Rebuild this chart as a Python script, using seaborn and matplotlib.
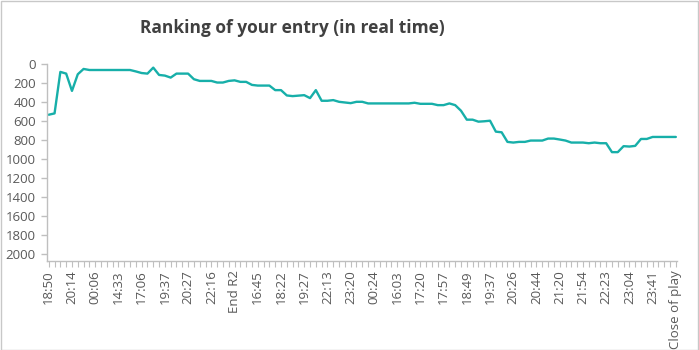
import numpy as np
import pandas as pd
import matplotlib
matplotlib.use("Agg")
import matplotlib.pyplot as plt
from matplotlib.patches import Rectangle
import seaborn as sns

# Ranking of the entry at each update (lower is better)
ranks = [
    531, 517, 80, 98, 280, 105, 49, 60, 60, 60,
    60, 60, 60, 60, 60, 75, 92, 98, 35, 112,
    119, 140, 98, 98, 98, 157, 175, 175, 175, 192,
    192, 175, 169, 185, 185, 217, 224, 224, 224, 272,
    272, 328, 335, 330, 325, 356, 272, 384, 384, 377,
    395, 402, 409, 395, 395, 412, 412, 412, 412, 412,
    412, 412, 412, 405, 416, 416, 416, 430, 430, 412,
    430, 489, 583, 583, 604, 600, 594, 709, 716, 817,
    824, 817, 817, 803, 803, 803, 782, 782, 792, 803,
    824, 824, 824, 831, 824, 831, 831, 925, 925, 862,
    866, 859, 786, 786, 765, 765, 765, 765, 765,
]

# Labels shown on every fourth update
tick_labels = [
    "18:50", "20:14", "00:06", "14:33", "17:06", "19:37", "20:27",
    "22:16", "End R2", "16:45", "18:22", "19:27", "22:13", "23:20",
    "00:24", "16:03", "17:20", "17:57", "18:49", "19:37", "20:26",
    "20:44", "21:20", "21:54", "22:23", "23:04", "23:41", "Close of play",
]
label_step = 4

y_ticks = list(range(0, 2001, 200))

df = pd.DataFrame({"step": np.arange(len(ranks)), "rank": ranks})

sns.set_style("white")
plt.rcParams["font.family"] = ["Open Sans", "DejaVu Sans"]

W, H = 699, 350
fig = plt.figure(figsize=(W / 100, H / 100), dpi=100)
ax = fig.add_axes([47 / W, 1 - 260.7 / H, 630 / W, 196.4 / H])

sns.lineplot(data=df, x="step", y="rank", ax=ax, color="#17AFA9",
             linewidth=1.7, legend=False)

ax.set_ylim(2068, 0)
ax.set_yticks(y_ticks)
ax.set_yticklabels([str(v) for v in y_ticks])
ax.set_xlim(-0.3, len(ranks) - 0.8)
ax.set_xticks(np.arange(0, len(ranks), label_step))
ax.set_xticklabels(tick_labels, rotation=90)
ax.set_xticks(np.arange(len(ranks)), minor=True)
ax.set_xlabel("")
ax.set_ylabel("")

axis_grey = "#BFBFBF"
text_grey = "#595959"
for side in ["top", "right"]:
    ax.spines[side].set_visible(False)
for side in ["left", "bottom"]:
    ax.spines[side].set_color(axis_grey)
    ax.spines[side].set_linewidth(1.0)

ax.tick_params(axis="y", which="major", left=True, length=4, width=1,
               color=axis_grey, labelsize=9.5, labelcolor=text_grey, pad=4)
ax.tick_params(axis="x", which="both", bottom=True, length=4, width=0.8,
               color=axis_grey, labelsize=9.5, labelcolor=text_grey, pad=3)

fig.text(292 / W, 1 - 28 / H, "Ranking of your entry (in real time)",
         ha="center", va="center", fontsize=12.5, fontweight="bold",
         color="#404040")

fig.patches.append(Rectangle((0.5 / W, 0.5 / H), (W - 1.5) / W, (H - 1.5) / H,
                             transform=fig.transFigure, fill=False,
                             edgecolor="#C8C8C8", linewidth=1.0))

fig.savefig("out.png", dpi=100)
